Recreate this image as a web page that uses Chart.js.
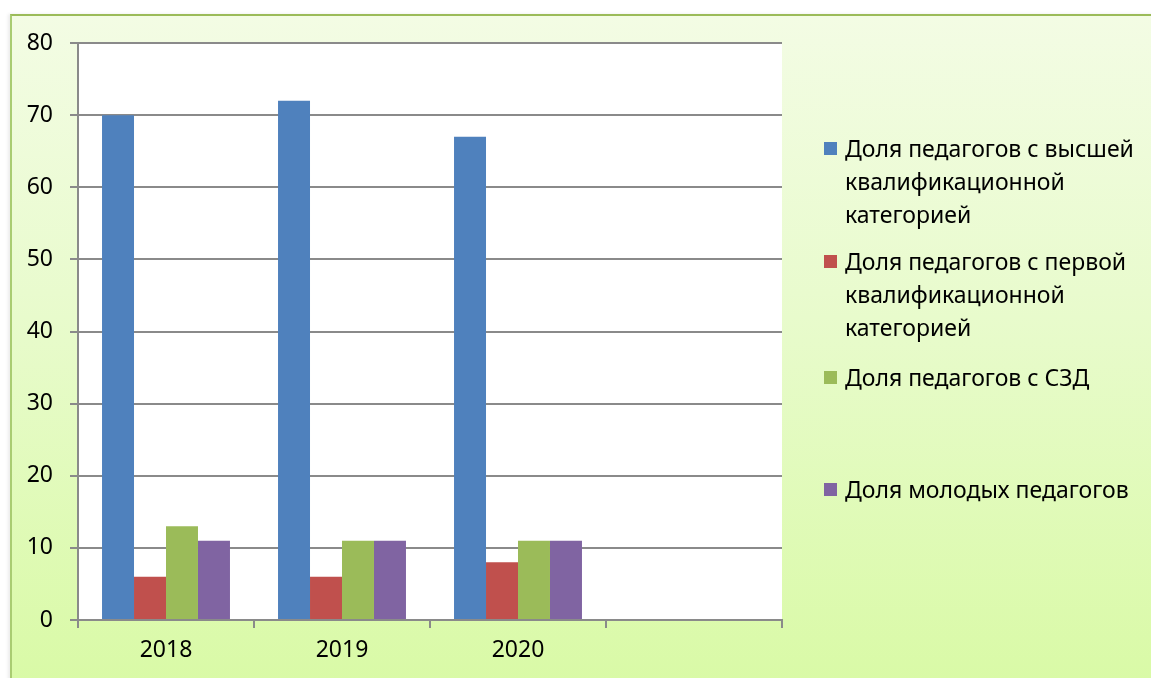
<!DOCTYPE html>
<html lang="ru">
<head>
<meta charset="utf-8">
<script src="https://cdn.jsdelivr.net/npm/chart.js@4"></script>
<style>
  html, body { margin: 0; padding: 0; background: #fff; }
  body { width: 1151px; height: 678px; position: relative; overflow: hidden; font-family: "Noto Sans", sans-serif; }
  #frame {
    position: absolute; left: 10px; top: 14px; width: 1150px; height: 670px;
    border-left: 2px solid #a9cc72; border-top: 2px solid #9bbb59;
    background: linear-gradient(180deg, #f3fce4 0%, #e8fbcc 45%, #d9faa6 100%);
    box-shadow: -2px 0 3px rgba(0,0,0,0.08);
  }
  #chart { position: absolute; left: 0; top: 0; }
  #legend { position: absolute; left: 824px; top: 0; }
  .item { position: absolute; left: 0; width: 330px; }
  .box { position: absolute; left: 0; width: 13px; height: 13px; }
  .txt { position: absolute; left: 21px; font-size: 23px; line-height: 33px; color: #000; white-space: nowrap; }
</style>
</head>
<body>
<div id="frame"></div>
<canvas id="chart" width="1151" height="678"></canvas>
<div id="legend"></div>
<script>
// chart data
const years = ['2018', '2019', '2020', ''];
const seriesNames = [
  ['Доля педагогов с высшей', 'квалификационной', 'категорией'],
  ['Доля педагогов с первой', 'квалификационной', 'категорией'],
  ['Доля педагогов с СЗД'],
  ['Доля молодых педагогов']
];
const highest = [70, 72, 67, null];
const first = [6, 6, 8, null];
const szd = [13, 11, 11, null];
const young = [11, 11, 11, null];
const yTicks = [0, 10, 20, 30, 40, 50, 60, 70, 80];

const colors = ['#4f81bd', '#c0504d', '#9bbb59', '#8064a2'];
const seriesValues = [highest, first, szd, young];
const legendTops = [132, 245, 361, 473]; // top of first text line for each item

const gridColor = '#8a8a8a';
const tickFont = { family: 'Noto Sans', size: 23 };

// white plot area behind bars
const plotBg = {
  id: 'plotBg',
  beforeDraw(chart) {
    const a = chart.chartArea;
    const ctx = chart.ctx;
    ctx.save();
    ctx.fillStyle = '#ffffff';
    ctx.fillRect(a.left, a.top, a.right - a.left, a.bottom - a.top);
    ctx.restore();
  }
};

new Chart(document.getElementById('chart'), {
  type: 'bar',
  data: {
    labels: years,
    datasets: seriesValues.map((vals, i) => ({
      label: seriesNames[i].join(' '),
      data: vals,
      backgroundColor: colors[i],
      borderWidth: 0,
      categoryPercentage: 0.727,
      barPercentage: 1
    }))
  },
  options: {
    responsive: false,
    animation: false,
    layout: { padding: { left: 0, right: 369, top: 43, bottom: 0 } },
    plugins: { legend: { display: false }, tooltip: { enabled: false } },
    scales: {
      x: {
        grid: { display: true, drawOnChartArea: false, drawTicks: true, tickLength: 8, color: gridColor, lineWidth: 2, offset: true },
        border: { color: gridColor, width: 2 },
        ticks: { color: '#000', font: tickFont, padding: 9 },
        afterFit(scale) { scale.height = 58; }
      },
      y: {
        min: 0, max: 80,
        afterBuildTicks(scale) { scale.ticks = yTicks.map(v => ({ value: v })); },
        grid: { color: gridColor, lineWidth: 2, tickLength: 8 },
        border: { color: gridColor, width: 2 },
        ticks: { color: '#000', font: tickFont, padding: 17 },
        afterFit(scale) { scale.width = 78; }
      }
    }
  },
  plugins: [plotBg]
});

// html legend, so names can wrap like the original
const legend = document.getElementById('legend');
seriesNames.forEach((lines, i) => {
  const item = document.createElement('div');
  item.className = 'item';
  item.style.top = legendTops[i] + 'px';
  const box = document.createElement('div');
  box.className = 'box';
  box.style.background = colors[i];
  box.style.top = '10px';
  item.appendChild(box);
  lines.forEach((line, j) => {
    const t = document.createElement('div');
    t.className = 'txt';
    t.style.top = (j * 33) + 'px';
    t.textContent = line;
    item.appendChild(t);
  });
  legend.appendChild(item);
});
</script>
</body>
</html>
